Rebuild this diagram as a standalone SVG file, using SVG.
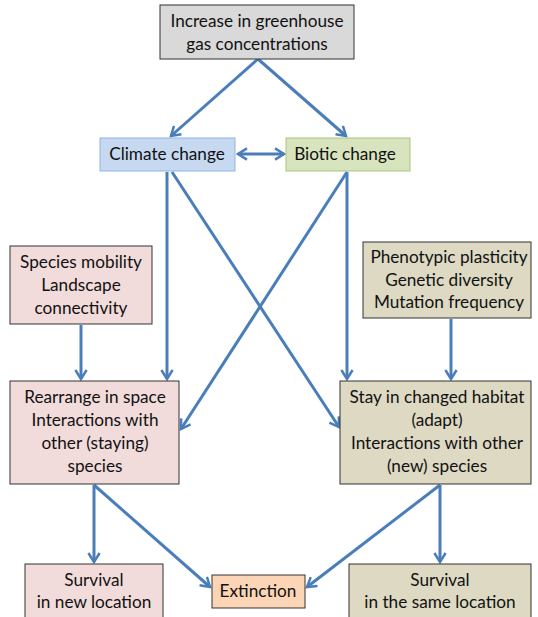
<svg xmlns="http://www.w3.org/2000/svg" width="538" height="617" viewBox="0 0 538 617">
<style>
text{font-family:Lato,"Liberation Sans",sans-serif;font-size:17.2px;fill:#111;text-anchor:middle}
.box{stroke:#333;stroke-width:1}
.c{fill:none;stroke:#4a7ebb;stroke-width:3}
</style>
<defs>
<marker id="ah" viewBox="0 0 12 12" refX="10" refY="6" markerWidth="4.5" markerHeight="4.5" orient="auto-start-reverse" markerUnits="strokeWidth">
<polyline points="2,1 10,6 2,11" fill="none" stroke="#4a7ebb" stroke-width="2.2"/>
</marker>
</defs>
<rect width="538" height="617" fill="#fff"/>
<g id="connectors">
<line class="c" x1="258" y1="59" x2="171" y2="136" marker-end="url(#ah)"/>
<line class="c" x1="258" y1="59" x2="346" y2="136" marker-end="url(#ah)"/>
<line class="c" x1="238" y1="154" x2="284" y2="154" marker-start="url(#ah)" marker-end="url(#ah)"/>
<line class="c" x1="167" y1="172" x2="167" y2="379" marker-end="url(#ah)"/>
<line class="c" x1="172" y1="172" x2="339" y2="427" marker-end="url(#ah)"/>
<line class="c" x1="347" y1="172" x2="181" y2="429" marker-end="url(#ah)"/>
<line class="c" x1="347" y1="172" x2="347" y2="379" marker-end="url(#ah)"/>
<line class="c" x1="81" y1="325" x2="81" y2="379" marker-end="url(#ah)"/>
<line class="c" x1="451" y1="319" x2="451" y2="379" marker-end="url(#ah)"/>
<line class="c" x1="94" y1="485" x2="94" y2="562" marker-end="url(#ah)"/>
<line class="c" x1="94" y1="485" x2="210" y2="587" marker-end="url(#ah)"/>
<line class="c" x1="440" y1="485" x2="440" y2="562" marker-end="url(#ah)"/>
<line class="c" x1="440" y1="485" x2="307" y2="587" marker-end="url(#ah)"/>
</g>
<g id="n-greenhouse">
<rect class="box" x="160" y="5" width="194" height="54" fill="#d9d9d9"/>
<text x="257" y="27">Increase in greenhouse</text>
<text x="257" y="50">gas concentrations</text>
</g>
<g id="n-climate">
<rect x="100" y="138" width="135" height="33" fill="#c6d9f1" stroke="#8eb4e3" stroke-width="1"/>
<text x="167" y="160">Climate change</text>
</g>
<g id="n-biotic">
<rect x="286" y="138" width="124" height="33" fill="#d7e4bd" stroke="#a9c47f" stroke-width="1"/>
<text x="345" y="160">Biotic change</text>
</g>
<g id="n-mobility">
<rect class="box" x="10" y="246" width="142" height="78" fill="#f2dcdb"/>
<text x="81" y="268">Species mobility</text>
<text x="81" y="291">Landscape</text>
<text x="81" y="314">connectivity</text>
</g>
<g id="n-plasticity">
<rect class="box" x="363" y="242" width="168" height="76" fill="#ddd9c3"/>
<text x="449" y="263">Phenotypic plasticity</text>
<text x="449" y="286">Genetic diversity</text>
<text x="449" y="308">Mutation frequency</text>
</g>
<g id="n-rearrange">
<rect class="box" x="10" y="381" width="169" height="103" fill="#f2dcdb"/>
<text x="95" y="403">Rearrange in space</text>
<text x="95" y="426">Interactions with</text>
<text x="95" y="449">other (staying)</text>
<text x="95" y="472">species</text>
</g>
<g id="n-stay">
<rect class="box" x="340" y="381" width="191" height="103" fill="#ddd9c3"/>
<text x="437" y="403">Stay in changed habitat</text>
<text x="437" y="426">(adapt)</text>
<text x="437" y="449">Interactions with other</text>
<text x="437" y="472">(new) species</text>
</g>
<g id="n-survival-new">
<rect class="box" x="25" y="564" width="138" height="60" fill="#f2dcdb"/>
<text x="94" y="586">Survival</text>
<text x="94" y="608">in new location</text>
</g>
<g id="n-extinction">
<rect class="box" x="212" y="575" width="93" height="33" fill="#fbd5b5"/>
<text x="258" y="597">Extinction</text>
</g>
<g id="n-survival-same">
<rect class="box" x="349" y="564" width="182" height="60" fill="#ddd9c3"/>
<text x="440" y="586">Survival</text>
<text x="440" y="608">in the same location</text>
</g>
</svg>
